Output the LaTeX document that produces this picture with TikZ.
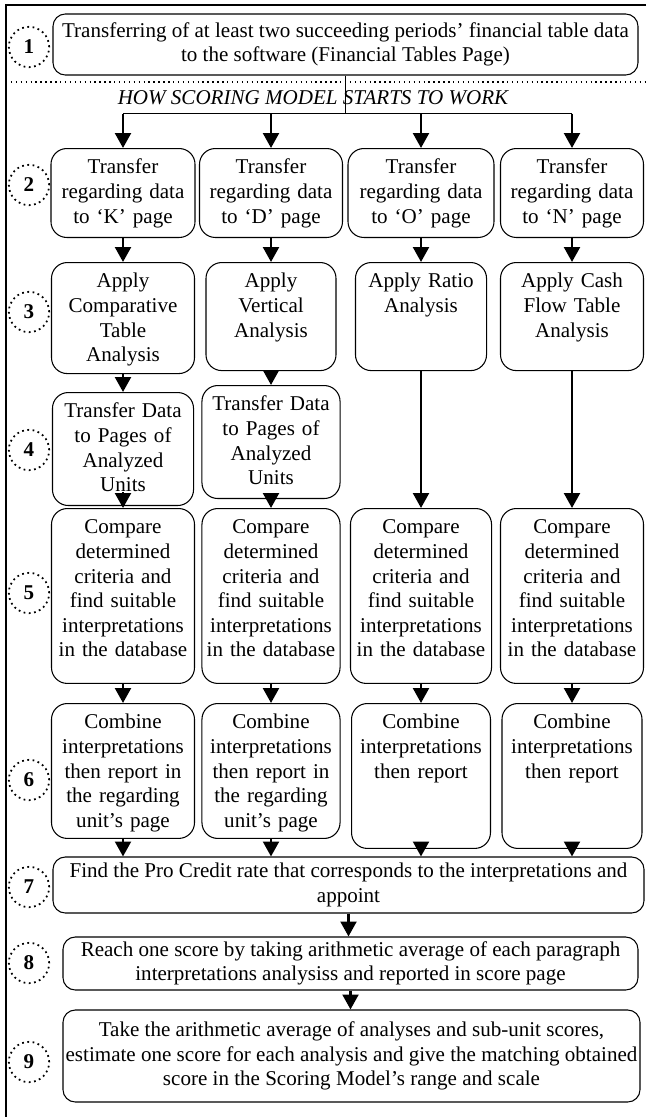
\documentclass[tikz,border=0pt]{standalone}
\usepackage{fontspec}
\setmainfont{Liberation Serif}
\usetikzlibrary{arrows.meta, positioning}
\newcommand{\boxfont}{\fontsize{12}{14}\selectfont}

\begin{document}
\begin{tikzpicture}[
  x=0.57pt, y=-0.57pt,
  col/.style={rectangle, rounded corners=9pt, draw, line width=0.6pt,
              anchor=north, align=center, inner xsep=0pt, inner ysep=3pt,
              text height=11.5pt, font=\boxfont},
  wide/.style={rectangle, rounded corners=7pt, draw, line width=0.6pt,
               align=center, inner xsep=0pt, inner ysep=2pt, font=\boxfont},
  num/.style={circle, draw, dotted, line width=1pt, minimum size=23pt,
              inner sep=0pt, font=\boxfont\bfseries},
  arr/.style={-{Triangle[width=9pt,length=8.5pt]}, line width=1.5pt},
  bus/.style={line width=1pt}
]
  \useasboundingbox (0,0) rectangle (646,1117);

  % frame and separator
  \draw[line width=1.2pt] (646,5) -- (6,5) -- (6,1117);
  \draw[dotted, line width=0.8pt] (6,82) -- (646,82);

  % step numbers
  \foreach \n/\y in {1/47,2/185,3/312,4/450,5/593,6/780,7/887,8/963,9/1062}
    \node[num] (s\n) at (29,\y) {\n};

  \node[wide, minimum width=585*0.57pt, minimum height=61*0.57pt] (src) at (345.5,44.5)
       {Transferring of at least two succeeding periods' financial table data\\to the software (Financial Tables Page)};
  \node[font=\boxfont\itshape] (title) at (313,98) {HOW SCORING MODEL STARTS TO WORK};

  % row 2
  \node[col, text width=82.1pt, text depth=33.2pt] (k2) at (123,148) {Transfer\\regarding data\\to `K' page};
  \node[col, text width=81.5pt, text depth=33.2pt] (d2) at (271,148) {Transfer\\regarding data\\to `D' page};
  \node[col, text width=83.2pt, text depth=33.2pt] (o2) at (421,148) {Transfer\\regarding data\\to `O' page};
  \node[col, text width=81.5pt, text depth=33.2pt] (n2) at (572,148) {Transfer\\regarding data\\to `N' page};

  % row 3
  \node[col, text width=81.5pt, text depth=45.8pt] (k3) at (123,262) {Apply\\Comparative\\Table\\Analysis};
  \node[col, text width=74.1pt, text depth=44.1pt] (d3) at (271,262) {Apply\\Vertical\\Analysis};
  \node[col, text width=74.7pt, text depth=44.1pt] (o3) at (421,262) {Apply Ratio\\Analysis};
  \node[col, text width=81.5pt, text depth=44.1pt] (n3) at (572,262) {Apply Cash\\Flow Table\\Analysis};

  % row 4
  \node[col, text width=80.4pt, text depth=46.9pt] (k4) at (123,392) {Transfer Data\\to Pages of\\Analyzed\\Units};
  \node[col, text width=78.7pt, text depth=46.9pt] (d4) at (271,385) {Transfer Data\\to Pages of\\Analyzed\\Units};

  % row 5
  \node[col, text width=81.5pt, text depth=82.2pt] (k5) at (123,508) {Compare\\determined\\criteria and\\find suitable\\interpretations\\in the database};
  \node[col, text width=78.7pt, text depth=82.2pt] (d5) at (271,508) {Compare\\determined\\criteria and\\find suitable\\interpretations\\in the database};
  \node[col, text width=80.4pt, text depth=82.2pt] (o5) at (421,508) {Compare\\determined\\criteria and\\find suitable\\interpretations\\in the database};
  \node[col, text width=81.5pt, text depth=82.2pt] (n5) at (572,508) {Compare\\determined\\criteria and\\find suitable\\interpretations\\in the database};

  % row 6
  \node[col, text width=81.5pt, text depth=59.4pt] (k6) at (123,703) {Combine\\interpretations\\then report in\\the regarding\\unit's page};
  \node[col, text width=78.7pt, text depth=59.4pt] (d6) at (271,703) {Combine\\interpretations\\then report in\\the regarding\\unit's page};
  \node[col, text width=79.2pt, text depth=65.1pt] (o6) at (421,703) {Combine\\interpretations\\then report};
  \node[col, text width=79.8pt, text depth=65.1pt] (n6) at (572,703) {Combine\\interpretations\\then report};

  % rows 7 to 9
  \node[wide, minimum width=591*0.57pt, minimum height=56*0.57pt] (r7) at (348.5,885)
       {Find the Pro Credit rate that corresponds to the interpretations and\\appoint};
  \node[wide, minimum width=575*0.57pt, minimum height=53*0.57pt] (r8) at (350.5,963.5)
       {Reach one score by taking arithmetic average of each paragraph\\interpretations analysiss and reported in score page};
  \node[wide, minimum width=577*0.57pt, minimum height=92*0.57pt] (r9) at (351.5,1056)
       {Take the arithmetic average of analyses and sub-unit scores,\\estimate one score for each analysis and give the matching obtained\\score in the Scoring Model's range and scale};

  % connectors
  \path (src.south) ++(0,38) coordinate (fork);
  \draw[line width=0.4pt] (src.south) -- (fork);
  \draw[bus] (k2.north |- fork) -- (n2.north |- fork);
  \foreach \c in {k,d,o,n} {
    \draw[arr] (\c2.north |- fork) -- (\c2.north);
    \draw[arr] (\c2) -- (\c3);
    \draw[arr] (\c5) -- (\c6);
    \draw[arr] (\c6.south) -- (\c6.south |- r7.north);
  }
  \draw[arr] (k3) -- (k4);
  \draw[arr] (d3) -- (d4);
  \draw[arr] (o3) -- (o5);
  \draw[arr] (n3) -- (n5);
  \draw[arr] ([yshift=8pt]k4.south) -- (k5.north);
  \draw[arr] ([yshift=3pt]d4.south) -- (d5.north);
  \draw[arr] (r7.south) -- (r7.south |- r8.north);
  \draw[arr] (r8.south) -- (r8.south |- r9.north);
\end{tikzpicture}
\end{document}
